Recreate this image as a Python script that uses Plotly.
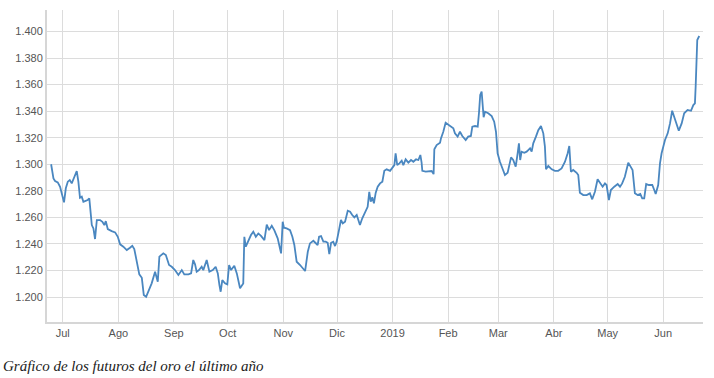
import pandas as pd
import plotly.graph_objects as go

# Day offsets from 2018-07-01 and gold futures price
day_offset = [
    -6.5, -5.2, -4.3, -2.8, -1.5, -0.2, 0.7, 1.7, 2.8, 3.9, 5.0, 6.5, 7.8, 8.7, 9.6, 10.6,
    11.5, 12.4, 13.9, 14.8, 15.6, 16.2, 17.1, 18.0, 19.0, 20.8, 22.1, 23.2, 24.0, 25.1,
    27.3, 29.2, 30.7, 32.0, 33.8, 35.7, 37.5, 38.8, 39.9, 41.3, 42.7, 44.1, 45.2, 46.5,
    47.7, 49.6, 51.5, 53.0, 53.9, 56.1, 57.5, 59.3, 60.8, 62.6, 64.5,
    66.4, 67.8, 70.1, 71.6, 72.8, 73.8, 74.7, 76.0, 77.5, 78.4, 80.3, 81.8, 83.7, 85.3,
    86.5, 87.4, 88.1, 89.0, 90.5, 91.8, 92.8, 93.9, 94.8, 95.7, 97.1, 98.9, 100.7, 101.3,
    102.1, 103.2, 105.0, 106.3, 107.7, 109.1, 110.6, 112.5, 113.8, 115.1, 116.6, 118.0,
    119.9, 121.8, 122.7, 123.4, 124.9, 126.8, 128.1, 129.2, 130.5, 132.4, 134.2, 135.2,
    136.7, 137.9, 139.8, 141.1, 142.2, 143.0, 144.1, 145.4, 146.7, 147.8, 148.7, 149.7,
    150.9, 151.9, 152.8, 154.1, 155.2, 156.2, 157.5, 159.0, 160.3, 161.5, 162.7, 164.0,
    164.9, 165.8, 167.1, 168.6, 170.1, 171.0, 171.8, 172.7, 173.6, 174.6, 175.7, 177.0,
    178.3, 179.4, 180.7, 182.6, 183.8, 185.0, 185.7, 186.6, 187.8, 189.1, 190.0, 191.3,
    192.8, 194.3, 195.6, 197.1, 198.4, 199.5, 200.2, 200.6, 202.5, 204.3, 205.8, 206.9,
    207.3, 208.6, 210.5,
    211.0, 212.3, 213.6, 215.1, 216.6, 217.9, 218.8, 220.3, 221.6, 222.9, 224.8, 226.2,
    227.7, 228.5, 230.0, 231.5, 232.2, 232.9, 233.7, 234.3, 234.8, 235.6, 237.4, 239.3,
    240.7, 241.7, 242.6, 243.9, 245.4, 246.7, 248.2, 248.9, 250.1, 251.3, 252.7, 253.8,
    254.5, 255.2, 256.0, 257.5, 258.8, 259.7, 260.7, 261.6, 262.5, 264.0, 265.3, 266.8,
    268.1, 269.0, 269.6, 270.9, 272.8, 274.6, 276.4, 278.3, 280.2,
    281.7, 282.6, 283.5, 284.8, 286.7, 287.6, 288.5, 290.4, 292.3, 294.1, 295.4, 296.9,
    298.4, 299.7, 301.2, 302.5, 303.4, 304.7, 305.8, 307.7, 309.6, 310.9, 312.1, 313.6,
    315.5, 316.8, 317.9, 319.2, 320.7, 322.2, 323.3, 324.4, 325.5, 327.0, 328.9, 330.0,
    330.8, 332.2, 333.2, 334.1, 336.0, 337.5, 338.8, 340.0, 341.1, 342.5, 343.7, 345.3,
    346.7, 348.6, 350.5, 351.8, 352.7, 353.1, 353.6, 354.0, 355.1,
]
price = [
    1300.0, 1289.4, 1287.4, 1286.4, 1283.1, 1276.8, 1271.3, 1281.9, 1286.9, 1288.1, 1285.6,
    1290.6, 1294.9, 1286.9, 1274.8, 1275.6, 1271.8, 1272.3, 1273.1, 1274.3, 1263.0, 1254.2,
    1251.7, 1243.7, 1258.0, 1258.0, 1256.7, 1254.2, 1257.2, 1251.2, 1249.7, 1248.7, 1245.4,
    1239.7, 1237.9, 1235.4, 1237.1, 1238.6, 1236.2, 1226.6, 1217.1, 1214.5, 1201.5, 1200.2,
    1204.0, 1210.3, 1219.1, 1211.5, 1230.4, 1232.9, 1231.6, 1224.1, 1222.8, 1220.3, 1216.6,
    1220.3, 1217.1, 1217.1, 1217.8, 1227.9, 1224.6, 1219.1, 1220.3, 1222.8, 1220.3, 1227.9,
    1219.1, 1220.3, 1222.8, 1217.8, 1209.0, 1204.0, 1212.8, 1210.3, 1209.5, 1224.1, 1220.3,
    1221.6, 1223.6, 1217.8, 1206.6, 1210.3, 1245.4, 1237.9, 1241.7, 1246.7, 1249.2, 1245.4,
    1247.9, 1246.1, 1242.9, 1254.6, 1250.4, 1253.7, 1250.4, 1244.2, 1232.9, 1256.7, 1252.2,
    1251.7, 1250.4, 1245.4, 1239.2, 1226.6, 1224.1, 1221.6, 1219.6,
    1234.1, 1240.4, 1242.4, 1240.9, 1239.2, 1245.4, 1245.9, 1241.7, 1241.7, 1240.9, 1232.4,
    1240.9, 1241.7, 1238.4, 1241.7, 1250.4, 1258.0, 1255.5, 1256.7, 1265.0, 1264.3, 1261.8,
    1260.0, 1261.8, 1258.0, 1254.2, 1259.3, 1264.3, 1268.0, 1279.3, 1271.8, 1275.1, 1270.6,
    1278.6, 1283.1, 1285.6, 1286.9, 1295.1, 1296.2, 1295.1, 1297.7, 1299.4, 1308.3, 1299.4,
    1300.7, 1302.7, 1299.4, 1303.7, 1301.2, 1303.2, 1301.9, 1303.7, 1303.2, 1307.0, 1301.2,
    1295.1, 1294.4, 1294.9, 1294.9, 1292.6, 1311.3, 1314.5, 1316.2,
    1319.5, 1324.5, 1331.3, 1329.6, 1328.3, 1327.1, 1323.3, 1320.8, 1324.5, 1321.3, 1318.3,
    1320.8, 1321.3, 1328.3, 1328.8, 1328.3, 1338.4, 1352.2, 1354.7, 1343.4, 1335.4, 1339.6,
    1338.4, 1336.3, 1332.1, 1324.5, 1308.3, 1301.9, 1295.7, 1291.9, 1293.6, 1298.2, 1305.2,
    1303.2, 1298.2, 1308.3, 1315.8, 1303.2, 1309.5, 1308.7, 1309.5, 1310.7, 1312.0, 1309.5,
    1315.8, 1320.8, 1325.7, 1328.8, 1323.3, 1313.3, 1296.2, 1298.7, 1296.2, 1295.1, 1295.1,
    1296.9, 1301.9,
    1308.3, 1313.8, 1294.4, 1295.7, 1293.6, 1291.9, 1278.6, 1276.8, 1276.8, 1278.1, 1273.6,
    1279.3, 1288.7, 1285.6, 1283.1, 1285.6, 1284.4, 1273.1, 1280.6, 1283.1, 1285.1, 1283.1,
    1285.6, 1290.6, 1301.2, 1298.2, 1295.7, 1278.1, 1276.8, 1277.6, 1274.3, 1274.3, 1285.1,
    1284.4, 1284.4, 1280.6, 1277.6, 1284.4, 1300.7, 1308.3, 1318.3, 1323.3, 1330.8, 1340.3,
    1335.8, 1329.6, 1325.3, 1330.8, 1338.4, 1340.9, 1340.3, 1344.6, 1345.9, 1358.4, 1381.0,
    1393.6, 1396.6,
]

month_ticks = ["2018-07-01", "2018-08-01", "2018-09-01", "2018-10-01", "2018-11-01",
               "2018-12-01", "2019-01-01", "2019-02-01", "2019-03-01", "2019-04-01",
               "2019-05-01", "2019-06-01"]
month_labels = ["Jul", "Ago", "Sep", "Oct", "Nov", "Dic", "2019", "Feb", "Mar", "Abr",
                "May", "Jun"]
y_ticks = [1200, 1220, 1240, 1260, 1280, 1300, 1320, 1340, 1360, 1380, 1400]
y_labels = ["1.200", "1.220", "1.240", "1.260", "1.280", "1.300", "1.320", "1.340",
            "1.360", "1.380", "1.400"]
caption = "Gráfico de los futuros del oro el último año"

base = pd.Timestamp("2018-07-01")
dates = [base + pd.Timedelta(days=d) for d in day_offset]

fig = go.Figure()
fig.add_trace(go.Scatter(
    x=dates, y=price, mode="lines",
    line=dict(color="#4a87c0", width=1.8),
    hoverinfo="skip",
))

x_start = base + pd.Timedelta(days=-8.8)
x_end = base + pd.Timedelta(days=357.2)

fig.update_layout(
    width=714, height=378,
    margin=dict(l=47, r=11, t=10, b=56),
    paper_bgcolor="white", plot_bgcolor="white",
    showlegend=False,
    font=dict(family="Liberation Sans, Arial, sans-serif", size=11, color="#555555"),
    xaxis=dict(
        range=[x_start, x_end],
        tickvals=month_ticks, ticktext=month_labels,
        showgrid=True, gridcolor="#dcdcdc", gridwidth=1,
        showline=True, linecolor="#d6d6d6", linewidth=2,
        ticks="", zeroline=False,
        tickfont=dict(size=11, color="#555555"),
    ),
    yaxis=dict(
        range=[1181.2, 1416.2],
        tickvals=y_ticks, ticktext=y_labels,
        showgrid=True, gridcolor="#dcdcdc", gridwidth=1,
        showline=True, linecolor="#d6d6d6", linewidth=2,
        ticks="", zeroline=False,
        tickfont=dict(size=11, color="#555555"),
    ),
    annotations=[dict(
        text="<i>" + caption + "</i>", xref="paper", yref="paper",
        x=-46 / 656, y=-44 / 312, xanchor="left", yanchor="middle",
        showarrow=False,
        font=dict(family="Liberation Serif, Times New Roman, serif", size=15,
                  color="#222222"),
    )],
)

fig.write_html(
    "out.html",
    config={"displayModeBar": False},
    post_script="document.body.style.margin='0';document.body.style.padding='0';",
)
